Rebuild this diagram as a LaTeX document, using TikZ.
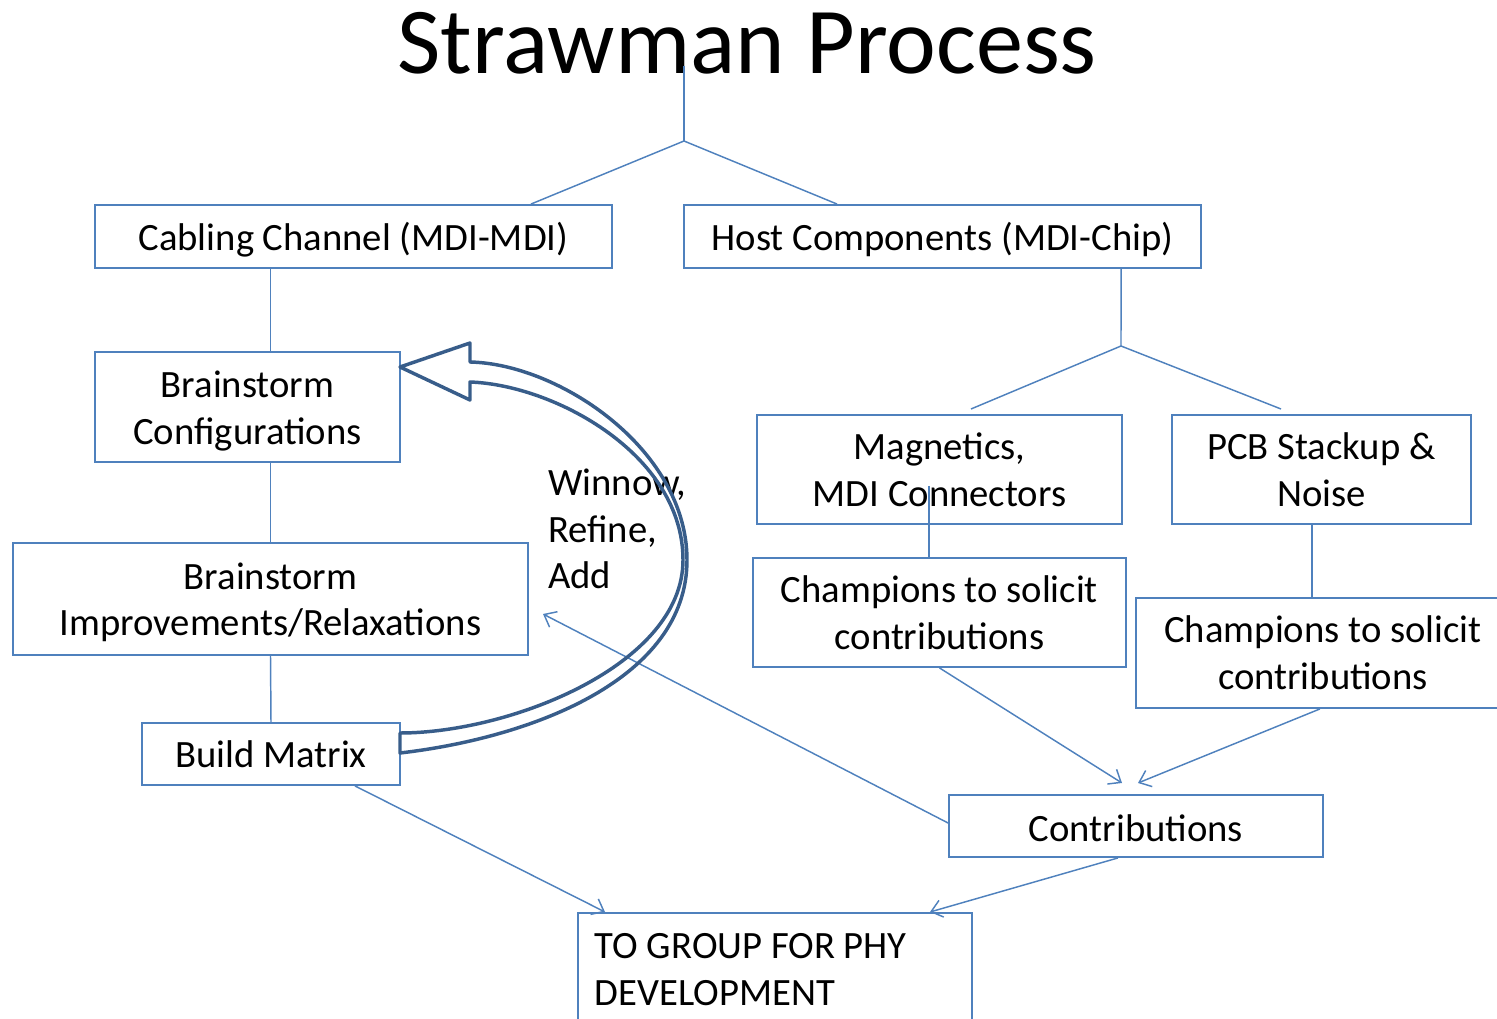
\documentclass[tikz,border=0pt]{standalone}
\usepackage{fontspec}
\setmainfont{Carlito}
\usetikzlibrary{arrows.meta}
\definecolor{boxblue}{HTML}{4F81BD}
\definecolor{arrowblue}{HTML}{385D8A}
% lower a line of text without changing the size it reports
\newcommand{\lowerby}[2]{\raisebox{-#1}[\height][\depth]{#2}}
\begin{document}
\begin{tikzpicture}[x=0.75pt,y=-0.75pt,
  box/.style={draw=boxblue, line width=1.4pt, rectangle, align=center,
    inner sep=0pt, font=\fontsize{29}{35.25}\selectfont},
  conn/.style={draw=boxblue, line width=1.1pt},
  arr/.style={conn, -{Straight Barb[length=8pt,width=13pt,line width=1.1pt]}},
  curv/.style={draw=arrowblue, line width=2.6pt, line join=round},
  lbl/.style={font=\fontsize{29}{35}\selectfont, inner sep=0pt}]
\useasboundingbox (0,0) rectangle (1497,1019);
\clip (0,0) rectangle (1497,1019);

% title
\node[font=\fontsize{70.7}{85}\selectfont, anchor=base, inner sep=0pt] (title) at (747,74) {Strawman Process};

% boxes
\node[box, minimum width=387.75pt, minimum height=47.25pt] (cab) at (353.5,236.5) {\lowerby{2.5pt}{Cabling Channel (MDI-MDI)}};
\node[box, minimum width=387.75pt, minimum height=47.25pt] (host) at (942.5,236.5) {\lowerby{2.5pt}{Host Components (MDI-Chip)}};
\node[box, minimum width=228.75pt, minimum height=82.5pt] (cfg) at (247.5,407) {\lowerby{3pt}{Brainstorm}\\\lowerby{3pt}{Configurations}};
\node[box, minimum width=386.25pt, minimum height=84pt] (imp) at (270.5,599) {\lowerby{3pt}{Brainstorm}\\\lowerby{2pt}{Improvements/Relaxations}};
\node[box, minimum width=193.5pt, minimum height=46.5pt] (bm) at (271,754) {Build Matrix};
\node[box, minimum width=273.75pt, minimum height=81.75pt] (mag) at (939.5,469.5) {Magnetics,\\MDI Connectors};
\node[box, minimum width=224.25pt, minimum height=81.75pt] (pcb) at (1321.5,469.5) {PCB Stackup \&\\Noise};
\node[box, minimum width=279.75pt, minimum height=81.75pt] (ch1) at (939.5,612.5) {Champions to solicit\\contributions};
\node[box, minimum width=280.5pt, minimum height=82.5pt] (ch2) at (1323,653) {Champions to solicit\\contributions};
\node[box, minimum width=280.5pt, minimum height=46.5pt] (con) at (1136,826) {\lowerby{1.5pt}{Contributions}};
\node[box, anchor=north west, align=flush left, text width=270pt, inner xsep=12.75pt, inner ysep=15pt] (grp) at (577,912)
  {TO GROUP FOR PHY\\DEVELOPMENT\rule[-40pt]{0pt}{0pt}};

% free ends of the tree connectors
\coordinate (t0) at (684,66);
\coordinate (j1) at (684,141);
\coordinate (j2) at (1121,346);
\coordinate (m1) at (971,409);
\coordinate (p1) at (1281,409);
\coordinate (mc) at (929,486);
\coordinate (tipA) at (1122,783);
\coordinate (tipB) at (1138,783);
\coordinate (tipC) at (543,614);
\coordinate (tipD) at (930,912);
\coordinate (tipE) at (605,912);

% tree from the title
\draw[conn] (t0) -- (j1);
\draw[conn] (j1) -- ([xshift=133.1pt]cab.north);
\draw[conn] (j1) -- ([xshift=-79.1pt]host.north);

% left column
\draw[conn] (cab.south -| imp.north) -- (cfg.north -| imp.north);
\draw[conn] (cfg.south -| imp.north) -- (imp.north);
\draw[conn] (imp.south) -- (bm.north);

% right branch
\draw[conn] ([xshift=133.9pt]host.south) -- (j2);
\draw[conn] (j2) -- (m1);
\draw[conn] (j2) -- (p1);
\draw[conn] (mc) -- (mc |- ch1.north);
\draw[conn] ([xshift=-7.1pt]pcb.south) -- ([xshift=-7.1pt]pcb.south |- ch2.north);

% arrows
\draw[arr] (ch1.south) -- (tipA);
\draw[arr] ([xshift=-2.3pt]ch2.south) -- (tipB);
\draw[arr] ([yshift=2.25pt]con.west) -- (tipC);
\draw[arr] ([xshift=-13.5pt]con.south) -- (tipD);
\draw[arr] ([xshift=63pt]bm.south) -- (tipE);

% loop label
\node[lbl, anchor=west, align=left] (loop) at (548,529) {Winnow,\\Refine,\\Add};

% curved block arrow from Build Matrix back to Brainstorm Configurations
\draw[curv]
  (400,733) .. controls (510,733) and (683,665) .. (683,560)
  .. controls (683,455) and (555,385) .. (470,382)
  -- (470,400) -- (400,367) -- (470,343) -- (470,362)
  .. controls (560,364) and (687,450) .. (687,560)
  .. controls (687,680) and (530,738) .. (400,753)
  -- cycle;
\end{tikzpicture}
\end{document}
